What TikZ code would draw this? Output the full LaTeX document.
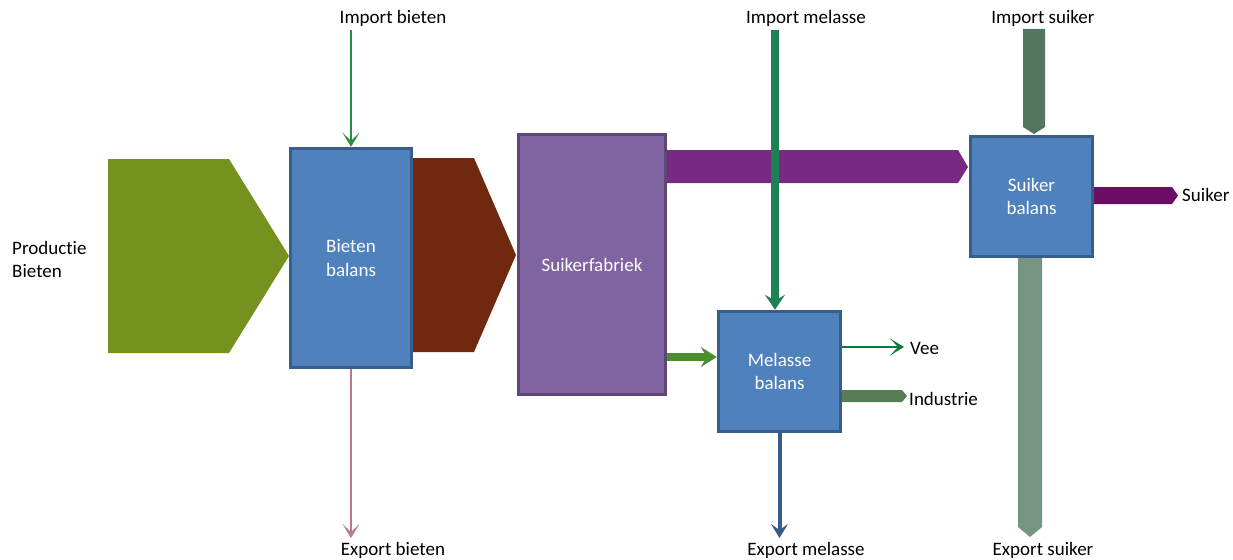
\documentclass[tikz,border=0pt]{standalone}
\usepackage{fontspec}
\setmainfont{Carlito}[Ligatures={NoCommon}]
\usetikzlibrary{arrows.meta}
\definecolor{prodgreen}{RGB}{118,146,30}
\definecolor{boxfill}{RGB}{79,129,189}
\definecolor{boxline}{RGB}{56,93,138}
\definecolor{beetbrown}{RGB}{112,41,15}
\definecolor{fabfill}{RGB}{128,100,162}
\definecolor{fabline}{RGB}{92,71,118}
\definecolor{sugarpurple}{RGB}{120,42,130}
\definecolor{impsuiker}{RGB}{83,118,97}
\definecolor{expsuiker}{RGB}{118,148,130}
\definecolor{suikerout}{RGB}{107,13,98}
\definecolor{industriecol}{RGB}{86,125,85}
\definecolor{veecol}{RGB}{14,122,58}
\definecolor{impmelasse}{RGB}{28,130,84}
\definecolor{melgreen}{RGB}{74,142,46}
\definecolor{impbieten}{RGB}{46,139,68}
\definecolor{expbieten}{RGB}{186,120,148}
\definecolor{expmelasse}{RGB}{56,93,138}
\tikzset{
  balbox/.style={draw=boxline, fill=boxfill, line width=3.5pt, text=white, align=center, inner sep=0pt},
  fabbox/.style={draw=fabline, fill=fabfill, line width=3.5pt, text=white, align=center, inner sep=0pt},
  lbl/.style={inner sep=0pt, text=black},
  chev/.style={-{Stealth[length=#1pt, width=17pt, inset=8pt]}},
}
\begin{document}
\begin{tikzpicture}[x=1pt,y=-1pt, font=\fontsize{19}{23.5}\selectfont]
\useasboundingbox (0,0) rectangle (1233,559);

% big flow shapes (drawn under the boxes)
\fill[prodgreen] (108,159) -- (229,159) -- (289,256) -- (229,353) -- (108,353) -- cycle;
\fill[beetbrown] (411,158) -- (474,158) -- (516,255) -- (474,352) -- (411,352) -- cycle;
\fill[sugarpurple] (667,150) -- (958,150) -- (968,167) -- (958,183) -- (667,183) -- cycle;
\fill[impsuiker] (1023,29) -- (1045,29) -- (1045,127) -- (1034,134) -- (1023,127) -- cycle;
\fill[expsuiker] (1018,258) -- (1042,258) -- (1042,527) -- (1030,537) -- (1018,527) -- cycle;
\fill[suikerout] (1094,187) -- (1172,187) -- (1178,195.5) -- (1172,204) -- (1094,204) -- cycle;
\fill[industriecol] (842,390) -- (902,390) -- (907,396) -- (902,402) -- (842,402) -- cycle;

% boxes
\node[balbox, minimum width=121pt, minimum height=219pt] (bb) at (351,258) {Bieten\\balans};
\node[fabbox, minimum width=147pt, minimum height=260pt] (sf) at (592,264.5) {Suikerfabriek};
\node[balbox, minimum width=122pt, minimum height=120pt] (mb) at (779.5,371.5) {Melasse\\balans};
\node[balbox, minimum width=122pt, minimum height=120pt] (sb) at (1031.5,196.5) {Suiker\\balans};

% labels
\node[lbl] (ibl) at (393,18) {Import bieten};
\node[lbl] (iml) at (806,18) {Import melasse};
\node[lbl] (isl) at (1043,18) {Import suiker};
\node[lbl] (ebl) at (393,550) {Export bieten};
\node[lbl] (eml) at (806,550) {Export melasse};
\node[lbl] (esl) at (1043,550) {Export suiker};
\node[lbl, align=left, anchor=west] (pbl) at (12,259.5) {Productie\\Bieten};
\node[lbl, anchor=west] (veel) at (910,348) {Vee};
\node[lbl, anchor=west] (indl) at (909,399) {Industrie};
\node[lbl, anchor=west] (sul) at (1182,195) {Suiker};

% connector end points
\coordinate (ibs) at (bb.north |- 0,30);
\coordinate (ims) at (775,30);
\coordinate (ebe) at (bb.south |- 0,538);
\coordinate (eme) at (mb.south |- 0,538);
\coordinate (veee) at (904,347);
\coordinate (sfo) at (sf.east |- 0,357);

% connectors
\draw[impbieten, line width=1.5pt, chev=14] (ibs) -- (bb.north);
\draw[expbieten, line width=1.5pt, chev=14] (bb.south) -- (ebe);
\draw[impmelasse, line width=8pt, -{Stealth[length=15pt, width=20pt, inset=6pt]}] (ims) -- (ims |- mb.north);
\draw[melgreen, line width=8pt, -{Stealth[length=16pt, width=20pt, inset=6pt]}] (sfo) -- (sfo -| mb.west);
\draw[veecol, line width=1.5pt, chev=14] (mb.east |- veee) -- (veee);
\draw[expmelasse, line width=4pt, -{Stealth[length=14pt, width=17pt, inset=6pt]}] (mb.south) -- (eme);
\end{tikzpicture}
\end{document}
